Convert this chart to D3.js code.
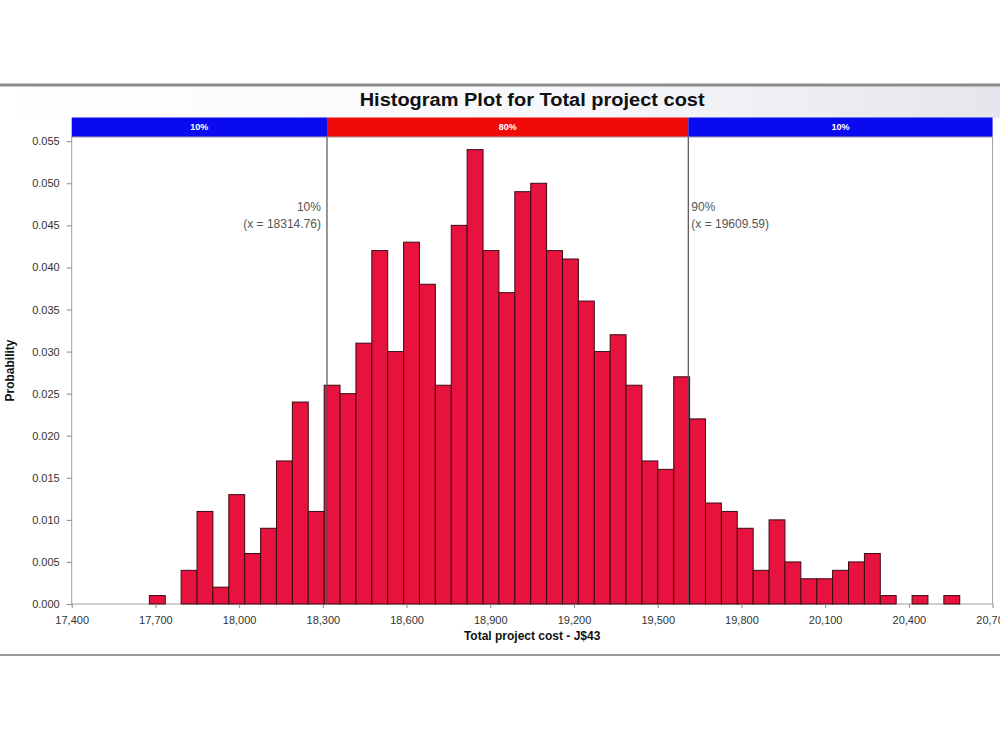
<!DOCTYPE html>
<html>
<head>
<meta charset="utf-8">
<script src="https://cdn.jsdelivr.net/npm/d3@7"></script>
<style>
  html, body { margin: 0; padding: 0; background: #fff; }
  svg { display: block; font-family: "Liberation Sans", Arial, sans-serif; }
</style>
</head>
<body>
<svg id="chart" width="1000" height="750"></svg>
<script>
// ---------- data ----------
const chartTitle = "Histogram Plot for Total project cost";
const xTitle = "Total project cost - J$43";
const yTitle = "Probability";
const binStart = 17678.3;
const binWidth = 56.94;
const probabilities = [
  0.001, 0.000, 0.004, 0.011, 0.002, 0.013, 0.006, 0.009, 0.017, 0.024,
  0.011, 0.026, 0.025, 0.031, 0.042, 0.030, 0.043, 0.038, 0.026, 0.045,
  0.054, 0.042, 0.037, 0.049, 0.050, 0.042, 0.041, 0.036, 0.030, 0.032,
  0.026, 0.017, 0.016, 0.027, 0.022, 0.012, 0.011, 0.009, 0.004, 0.010,
  0.005, 0.003, 0.003, 0.004, 0.005, 0.006, 0.001, 0.000, 0.001, 0.000,
  0.001
];
const xTicks = [17400, 17700, 18000, 18300, 18600, 18900, 19200, 19500, 19800, 20100, 20400, 20700];
const yTicks = [0, 0.005, 0.010, 0.015, 0.020, 0.025, 0.030, 0.035, 0.040, 0.045, 0.050, 0.055];
const percentileLabels = ["10%", "90%"];
const percentileValues = [18314.76, 19609.59];
const bandLabels = ["10%", "80%", "10%"];

// ---------- layout ----------
const svg = d3.select("#chart");
const L = 71.7, R = 992.6, T = 137, B = 604;
const x = d3.scaleLinear().domain([17400, 20700]).range([L, R]);
const y = d3.scaleLinear().domain([0, 0.0555]).range([B, T]);

// window frame
const defs = svg.append("defs");
const grad = defs.append("linearGradient").attr("id", "hdr").attr("x1", "0").attr("x2", "1").attr("y1", "0").attr("y2", "0");
grad.append("stop").attr("offset", "0").attr("stop-color", "#ffffff");
grad.append("stop").attr("offset", "0.6").attr("stop-color", "#f6f7fa");
grad.append("stop").attr("offset", "1").attr("stop-color", "#e4e6ec");
svg.append("rect").attr("x", 0).attr("y", 86).attr("width", 1000).attr("height", 32).attr("fill", "url(#hdr)");
svg.append("line").attr("x1", 0).attr("x2", 1000).attr("y1", 85).attr("y2", 85)
  .attr("stroke", "#8c8c8c").attr("stroke-width", 3);
svg.append("line").attr("x1", 0).attr("x2", 1000).attr("y1", 655).attr("y2", 655)
  .attr("stroke", "#9a9a9a").attr("stroke-width", 2);

// title
svg.append("text").attr("x", (L + R) / 2).attr("y", 106).attr("text-anchor", "middle")
  .attr("font-size", 18).attr("font-weight", "bold").attr("fill", "#111")
  .attr("textLength", 345).attr("lengthAdjust", "spacingAndGlyphs")
  .text(chartTitle);

// percentile band
const bandEdges = [17400, ...percentileValues, 20700];
const bandColors = ["#0a0af0", "#f00a0a", "#0a0af0"];
const bandTop = 117.5;
bandLabels.forEach((lab, i) => {
  const x0 = x(bandEdges[i]), x1 = x(bandEdges[i + 1]);
  svg.append("rect").attr("x", x0).attr("y", bandTop).attr("width", x1 - x0).attr("height", T - bandTop)
    .attr("fill", bandColors[i]);
  svg.append("text").attr("x", (x0 + x1) / 2).attr("y", bandTop + 12.5).attr("text-anchor", "middle")
    .attr("font-size", 9).attr("font-weight", "bold").attr("fill", "#ffffff").text(lab);
});

// plot frame
svg.append("rect").attr("x", L).attr("y", T).attr("width", R - L).attr("height", B - T)
  .attr("fill", "#fff").attr("stroke", "#a0a0a0").attr("stroke-width", 1);

// bars
svg.append("g").selectAll("rect").data(probabilities.map((p, i) => ({ p, i })).filter(d => d.p > 0))
  .join("rect")
  .attr("x", d => x(binStart + d.i * binWidth))
  .attr("width", d => x(binStart + (d.i + 1) * binWidth) - x(binStart + d.i * binWidth))
  .attr("y", d => y(d.p))
  .attr("height", d => y(0) - y(d.p))
  .attr("fill", "#e8123e")
  .attr("stroke", "#3a0b14")
  .attr("stroke-width", 1);

// percentile lines + annotations
percentileValues.forEach((v, i) => {
  const px = x(v);
  svg.append("line").attr("x1", px).attr("x2", px).attr("y1", T).attr("y2", B)
    .attr("stroke", "#505050").attr("stroke-width", 1.2);
  const left = i === 0;
  const tx = left ? px - 6 : px + 3;
  const anchor = left ? "end" : "start";
  svg.append("text").attr("x", tx).attr("y", 211).attr("text-anchor", anchor)
    .attr("font-size", 12).attr("fill", "#555").text(percentileLabels[i]);
  svg.append("text").attr("x", tx).attr("y", 228).attr("text-anchor", anchor)
    .attr("font-size", 12).attr("fill", "#555").text("(x = " + v.toFixed(2) + ")");
});

// y axis
const yAxis = d3.axisLeft(y).tickValues(yTicks).tickFormat(d3.format(".3f")).tickSize(5).tickPadding(7);
const gy = svg.append("g").attr("transform", `translate(${L},0)`).call(yAxis);
gy.select(".domain").remove();
gy.selectAll(".tick line").attr("stroke", "#888");
gy.selectAll(".tick text").attr("font-size", 11).attr("fill", "#333").attr("font-family", "Liberation Sans, Arial, sans-serif");

// x axis
const xAxis = d3.axisBottom(x).tickValues(xTicks).tickFormat(d3.format(",")).tickSize(4).tickPadding(8);
const gx = svg.append("g").attr("transform", `translate(0,${B})`).call(xAxis);
gx.select(".domain").remove();
gx.selectAll(".tick line").attr("stroke", "#888");
gx.selectAll(".tick text").attr("font-size", 11).attr("fill", "#333").attr("font-family", "Liberation Sans, Arial, sans-serif");

// axis titles
svg.append("text").attr("x", (L + R) / 2).attr("y", 640).attr("text-anchor", "middle")
  .attr("font-size", 12).attr("font-weight", "bold").attr("fill", "#111").text(xTitle);
svg.append("text").attr("transform", `translate(14,${(T + B) / 2}) rotate(-90)`).attr("text-anchor", "middle")
  .attr("font-size", 12).attr("font-weight", "bold").attr("fill", "#111").text(yTitle);
</script>
</body>
</html>
